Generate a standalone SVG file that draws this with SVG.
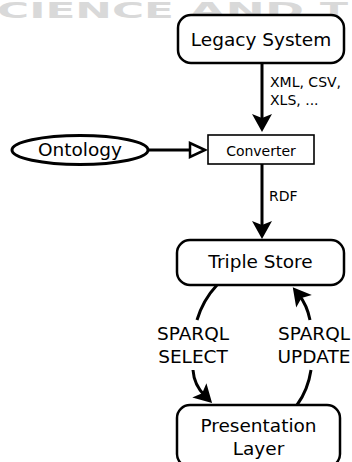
<svg xmlns="http://www.w3.org/2000/svg" width="352" height="462" viewBox="0 0 352 462">
<style>
.wm{font-family:"DejaVu Sans",sans-serif;font-weight:bold;font-size:21px;fill:#d9d9d9}
.box{fill:#fff;stroke:#000;stroke-width:2.5}
.big{font-family:"DejaVu Sans",sans-serif;font-size:18.5px;fill:#000;text-anchor:middle}
.sm{font-family:"DejaVu Sans",sans-serif;font-size:14px;fill:#000}
.edge{fill:none;stroke:#000;stroke-width:3}
</style>
<defs>
<marker id="ah" markerUnits="userSpaceOnUse" orient="auto" refX="0" refY="0" markerWidth="30" markerHeight="30" overflow="visible">
<path d="M10,0 L-8,-10 L-4,0 L-8,10 Z" fill="#000"/>
</marker>
<marker id="oh" markerUnits="userSpaceOnUse" orient="auto" refX="0" refY="0" markerWidth="30" markerHeight="30" overflow="visible">
<path d="M15,0 L0,-7 L0,7 Z" fill="#fff" stroke="#000" stroke-width="2.5" stroke-linejoin="miter"/>
</marker>
</defs>
<g id="watermark">
<text class="wm" x="-3" y="18" textLength="177" lengthAdjust="spacingAndGlyphs">CIENCE</text>
<text class="wm" x="189" y="18" textLength="115" lengthAdjust="spacingAndGlyphs">AND</text>
<text class="wm" x="320" y="18" textLength="28" lengthAdjust="spacingAndGlyphs">T</text>
</g>
<g id="connectors">
<path class="edge" d="M262,63 L262,122" marker-end="url(#ah)"/>
<text class="sm" x="270" y="87">XML, CSV,</text>
<text class="sm" x="270" y="105">XLS, ...</text>
<path class="edge" d="M148,150 L190,150" stroke-width="2.5" marker-end="url(#oh)"/>
<path class="edge" d="M262,164 L262,229" marker-end="url(#ah)"/>
<text class="sm" x="269" y="201">RDF</text>
<path class="edge" d="M217,285 Q203,300 197,320"/>
<path class="edge" d="M193,370 Q194,385 205,396" marker-end="url(#ah)"/>
<text class="big" x="193" y="340">SPARQL</text>
<text class="big" x="193" y="363">SELECT</text>
<path class="edge" d="M297,405 Q308,390 311,370"/>
<path class="edge" d="M310,320 Q307,305 299,295" marker-end="url(#ah)"/>
<text class="big" x="314" y="340">SPARQL</text>
<text class="big" x="314" y="363">UPDATE</text>
</g>
<g id="legacy">
<rect class="box" x="178" y="15" width="166" height="48" rx="13"/>
<text class="big" x="261" y="46">Legacy System</text>
</g>
<g id="ontology">
<ellipse cx="80" cy="150" rx="68" ry="14.5" fill="#fff" stroke="#000" stroke-width="3"/>
<text class="big" x="80" y="156">Ontology</text>
</g>
<g id="converter">
<rect x="208" y="135" width="106" height="29" fill="#fff" stroke="#000" stroke-width="1.6"/>
<text class="sm" x="261" y="156" text-anchor="middle" font-size="14.5">Converter</text>
</g>
<g id="triplestore">
<rect class="box" x="177" y="240" width="167" height="45" rx="13"/>
<text class="big" x="260.5" y="268">Triple Store</text>
</g>
<g id="presentation">
<rect class="box" x="177" y="405" width="163" height="62" rx="13"/>
<text class="big" x="258.5" y="432">Presentation</text>
<text class="big" x="258.5" y="455">Layer</text>
</g>
</svg>
